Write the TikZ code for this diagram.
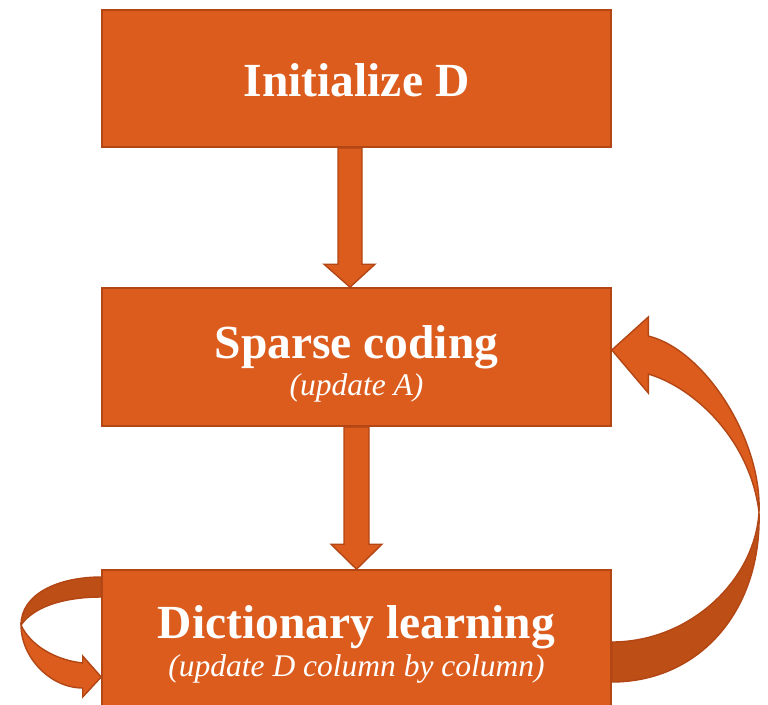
\documentclass[tikz,border=0pt]{standalone}
\usepackage{fontspec}
\setmainfont{Liberation Serif}
\usetikzlibrary{calc,backgrounds}
\definecolor{boxfill}{RGB}{220,92,30}
\definecolor{boxline}{RGB}{178,70,20}
\definecolor{backface}{RGB}{188,78,22}
\tikzset{box/.style={draw=boxline, fill=boxfill, line width=1.6pt, minimum width=509pt, minimum height=137pt, inner sep=0pt},
  title/.style={text=white, anchor=base, font={\fontsize{47.5}{50}\selectfont\bfseries}},
  subtitle/.style={text=white, anchor=base, font={\fontsize{31.5}{34}\selectfont\itshape}},
  blockarrow/.style={draw=boxline, fill=boxfill, line width=1.4pt, line join=miter},
  backarrow/.style={draw=boxline, fill=backface, line width=1.4pt, line join=round}}

\begin{document}
\begin{tikzpicture}[x=1pt,y=-1pt]
  \useasboundingbox (0,0) rectangle (768,704);
  \node[box] (init) at (356.5,78.5) {};
  \node[box, minimum height=138pt] (sparse) at (356.5,357) {};
  \node[box] (dict) at (356.5,638.5) {};
  \begin{scope}[on background layer]
  \draw[blockarrow]
   ($(init.south)+(-18.5,0)$) -- ($(sparse.north)+(-18.5,-23)$) -- ($(sparse.north)+(-32.5,-23)$) --
   ($(sparse.north)+(-6.5,0)$) -- ($(sparse.north)+(18.5,-23)$) -- ($(sparse.north)+(5.5,-23)$) --
   ($(init.south)+(5.5,0)$) -- cycle;
  \draw[blockarrow]
   ($(sparse.south)+(-12.5,0)$) -- ($(dict.north)+(-12.5,-25)$) -- ($(dict.north)+(-25.5,-25)$) --
   ($(dict.north)+(0,0)$) -- ($(dict.north)+(25.5,-25)$) -- ($(dict.north)+(12.5,-25)$) --
   ($(sparse.south)+(12.5,0)$) -- cycle;
  \draw[backarrow]
   ($(dict.east)+(0,43.5)$) .. controls (700,682) and (762,610) .. (759,512)
   .. controls (755,580) and (690,642) .. ($(dict.east)+(0,3.5)$) -- cycle;
  \draw[blockarrow]
   (759,512) .. controls (762,440) and (705,350) .. ($(sparse.east)+(36.5,-21)$) --
   ($(sparse.east)+(36.5,-40)$) -- ($(sparse.east)+(0,-7)$) -- ($(sparse.east)+(36.5,36)$) --
   ($(sparse.east)+(36.5,17)$) .. controls (695,388) and (750,440) .. (759,512) -- cycle;
  \draw[backarrow]
   ($(dict.west)+(0,-61.5)$) .. controls (58,577) and (21,594) .. (21,625)
   .. controls (36,604) and (70,597) .. ($(dict.west)+(0,-41.5)$) -- cycle;
  \draw[blockarrow]
   (21,625) .. controls (21,657) and (50,688) .. ($(dict.west)+(-18.5,49.5)$) --
   ($(dict.west)+(-18.5,58.5)$) -- ($(dict.west)+(0,38.5)$) -- ($(dict.west)+(-18.5,17.5)$) --
   ($(dict.west)+(-18.5,24.5)$) .. controls (55,660) and (30,645) .. (21,625) -- cycle;
  \end{scope}
  \node[title] (initT) at ($(init.center)+(0,17.5)$) {Initialize D};
  \node[title] (sparseT) at ($(sparse.center)+(0,1)$) {Sparse coding};
  \node[subtitle] (sparseS) at ($(sparse.center)+(0,38)$) {(update A)};
  \node[title] (dictT) at ($(dict.center)+(0,-0.5)$) {Dictionary learning};
  \node[subtitle] (dictS) at ($(dict.center)+(0,37.5)$) {(update D column by column)};
\end{tikzpicture}
\end{document}
